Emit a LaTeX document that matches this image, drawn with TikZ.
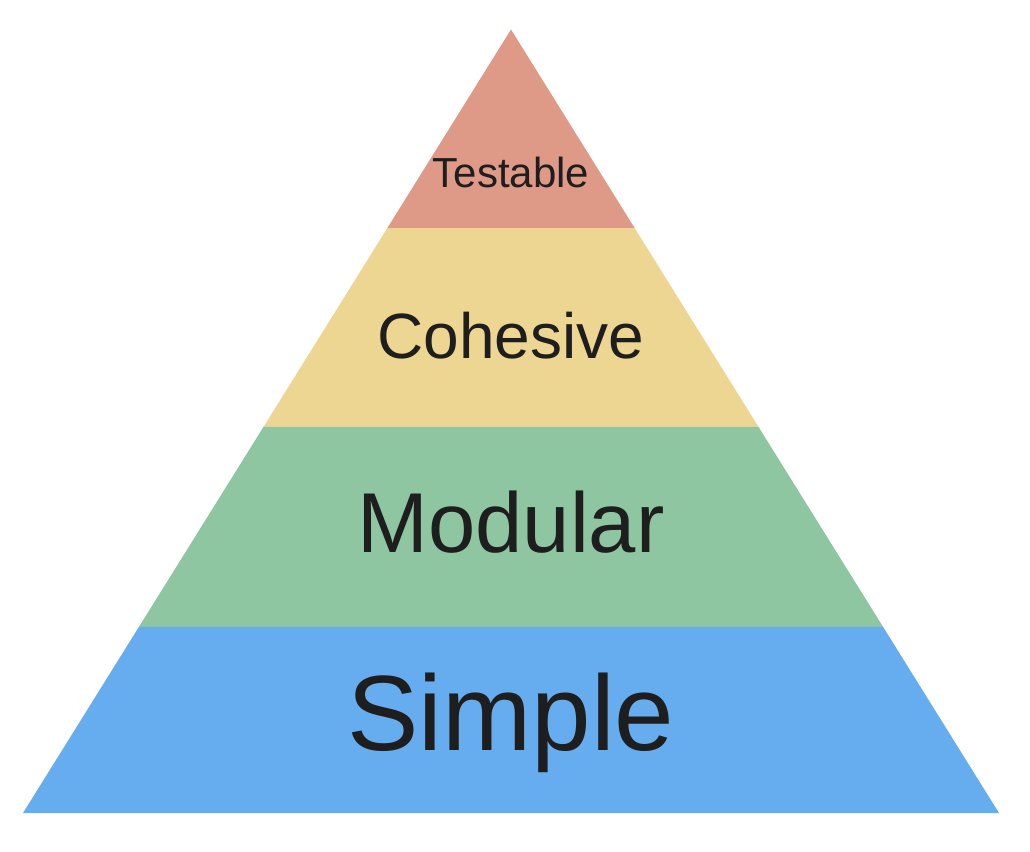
\documentclass[tikz,border=0pt]{standalone}
\usepackage{fontspec}
\setmainfont{Liberation Sans}
\usepackage{tikz}
\usetikzlibrary{positioning, calc}
\usepackage{xcolor}
\definecolor{tierred}{HTML}{DE9A87}
\definecolor{tieryellow}{HTML}{EDD691}
\definecolor{tiergreen}{HTML}{8EC6A2}
\definecolor{tierblue}{HTML}{66ADEF}
\definecolor{ink}{HTML}{1E1E1E}

\begin{document}
\begin{tikzpicture}[x=0.5pt, y=-0.5pt]
        \tikzstyle{tier} = [draw=none]
        \tikzstyle{tierlabel} = [anchor=base, text=ink, inner sep=0pt]
        \useasboundingbox (0,0) rectangle (1030,852);

        \coordinate (apex) at (511,29.5);
        \coordinate (baseL) at (23,813);
        \coordinate (baseR) at (999,813);

        % bands, from the top down
        \foreach \ta/\tb/\col in {0/0.2534/tierred, 0.2534/0.5073/tieryellow,
                                  0.5073/0.7625/tiergreen, 0.7625/1/tierblue}
          \fill[tier, \col] ($(apex)!\ta!(baseL)$) -- ($(apex)!\tb!(baseL)$)
            -- ($(apex)!\tb!(baseR)$) -- ($(apex)!\ta!(baseR)$) -- cycle;

        \foreach \txt/\sz/\yb [count=\i] in {Testable/21/187, Cohesive/32/358,
                                             Modular/42.5/552, Simple/53.5/750}
          \node[tierlabel, font=\fontsize{\sz}{\sz}\selectfont] (label\i) at (511,\yb) {\txt};
      \end{tikzpicture}
\end{document}
